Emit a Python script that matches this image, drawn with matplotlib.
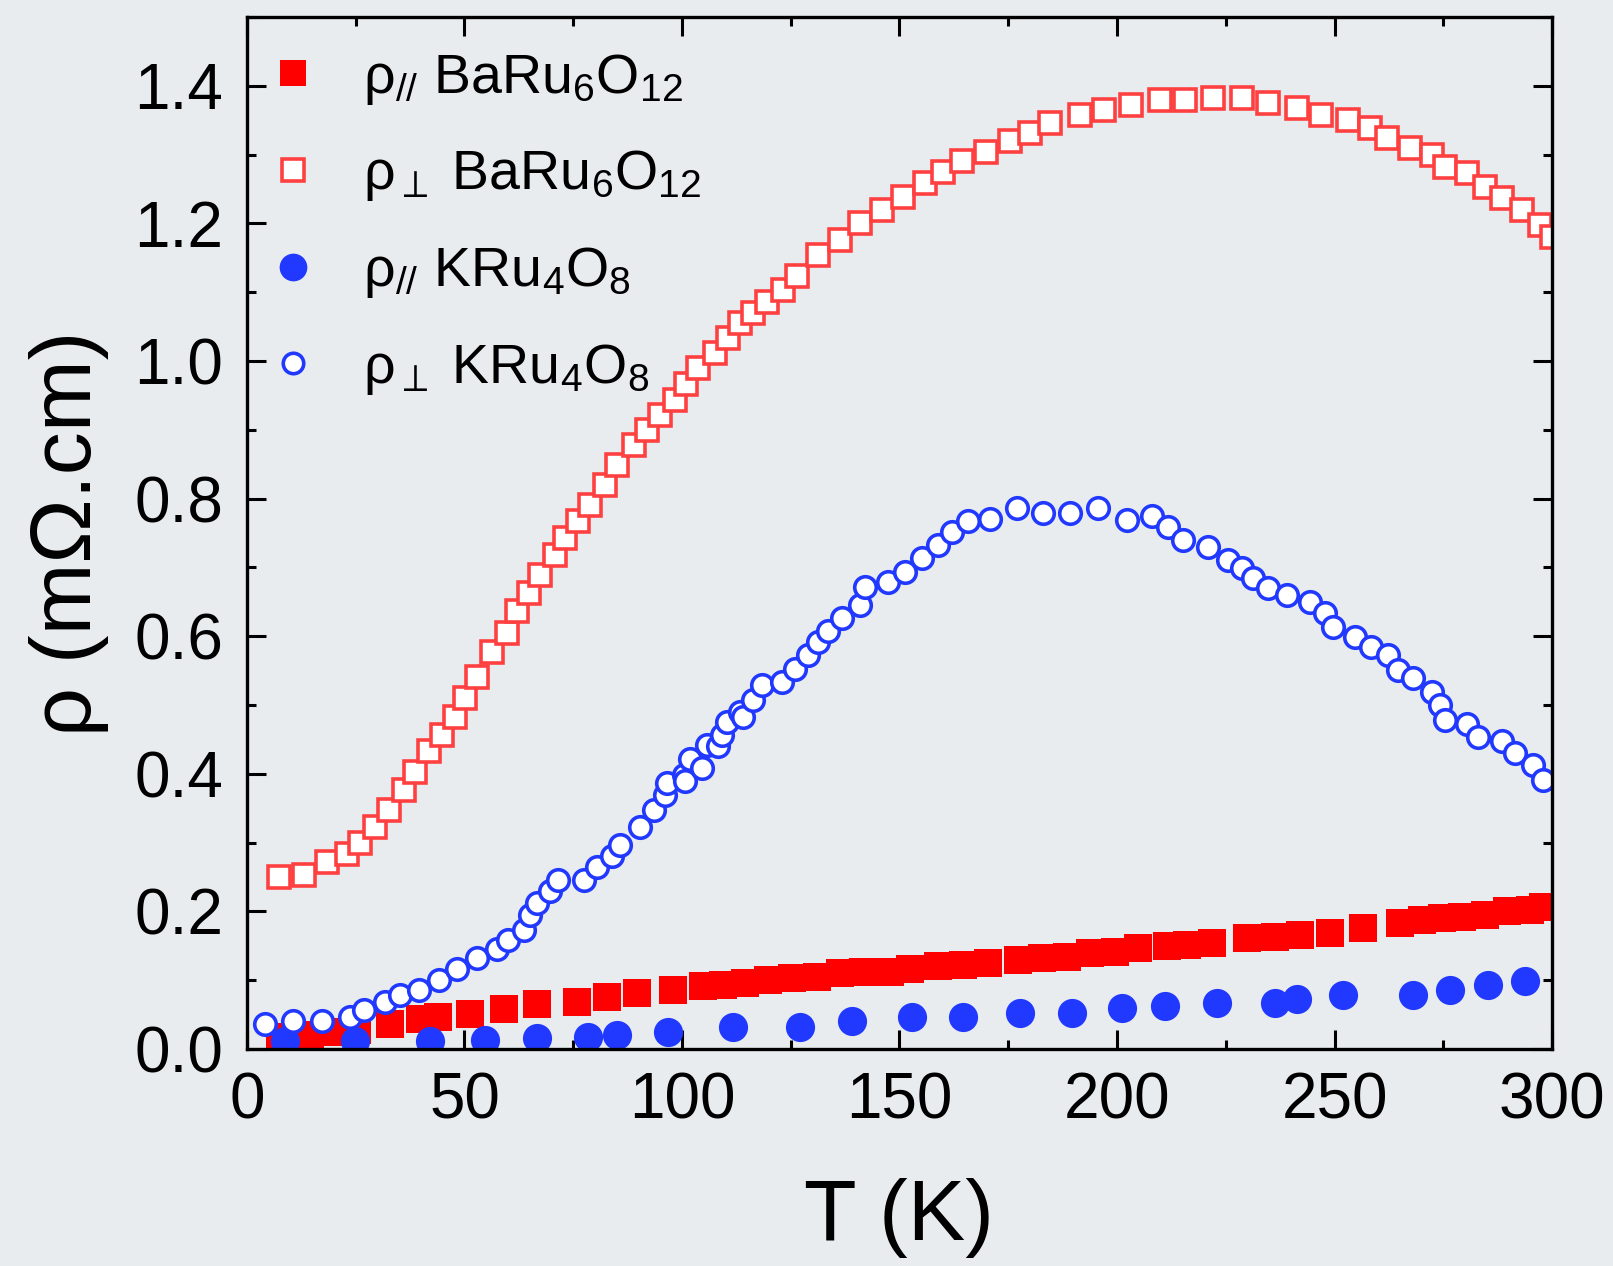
#!/usr/bin/env python3

import matplotlib
matplotlib.use('Agg')
import matplotlib.pyplot as plt
from matplotlib.ticker import MultipleLocator

BG = '#e9ecef'
RED = '#ff0000'
RED_EDGE = '#ff4040'
BLUE = '#2139ff'

plt.rcParams['font.family'] = ['Liberation Sans', 'DejaVu Sans']
plt.rcParams['mathtext.fontset'] = 'custom'
plt.rcParams['mathtext.rm'] = 'Liberation Sans'
plt.rcParams['mathtext.it'] = 'Liberation Sans'
plt.rcParams['mathtext.fallback'] = 'stixsans'

# rho_// BaRu6O12 (filled red squares)
t_ba_par = [7.6, 14.5, 20.7, 25.3, 32.9, 39.8, 44.0, 51.3, 59.0, 66.7, 75.9,
            82.8, 89.7, 98.0, 104.9, 109.4, 114.5, 119.8, 125.2, 131.0, 136.3,
            141.6, 147.8, 152.4, 158.9, 164.6, 170.3, 177.2, 182.7, 188.4,
            193.8, 199.5, 204.8, 211.4, 216.0, 221.8, 229.8, 236.3, 242.0,
            249.0, 256.6, 265.0, 270.0, 274.6, 279.2, 284.6, 289.6, 294.9, 298.0]
r_ba_par = [0.018, 0.020, 0.025, 0.028, 0.036, 0.043, 0.047, 0.051, 0.058,
            0.065, 0.069, 0.076, 0.081, 0.086, 0.091, 0.093, 0.096, 0.100,
            0.103, 0.105, 0.110, 0.112, 0.112, 0.116, 0.120, 0.122, 0.125,
            0.129, 0.132, 0.134, 0.139, 0.141, 0.147, 0.149, 0.151, 0.154,
            0.161, 0.163, 0.166, 0.169, 0.176, 0.183, 0.187, 0.190, 0.192,
            0.195, 0.200, 0.202, 0.207]

# rho_perp BaRu6O12 (open red squares)
t_ba_perp = [7.3, 13.0, 18.4, 23.0, 26.0, 29.4, 32.6, 36.0, 38.6, 41.8, 44.8,
             47.8, 50.1, 52.9, 56.3, 59.8, 62.1, 64.8, 67.4, 70.8, 73.1, 76.2,
             78.9, 82.3, 85.1, 88.9, 92.0, 95.0, 98.4, 101.0, 103.7, 107.6,
             110.6, 113.3, 116.3, 119.5, 123.2, 126.4, 131.3, 136.3, 141.0,
             145.9, 150.8, 155.9, 160.0, 164.3, 170.0, 175.4, 180.0, 184.6,
             191.5, 197.0, 203.2, 209.9, 215.6, 222.0, 228.7, 234.7, 241.3,
             247.0, 253.1, 258.2, 262.0, 267.4, 272.3, 275.4, 280.4, 284.6,
             288.4, 293.0, 297.2, 299.9]
r_ba_perp = [0.250, 0.253, 0.272, 0.283, 0.299, 0.323, 0.347, 0.376, 0.403,
             0.433, 0.456, 0.483, 0.510, 0.541, 0.577, 0.605, 0.636, 0.663,
             0.689, 0.718, 0.743, 0.767, 0.791, 0.820, 0.849, 0.878, 0.900,
             0.922, 0.944, 0.967, 0.990, 1.012, 1.033, 1.055, 1.070, 1.086,
             1.103, 1.123, 1.154, 1.176, 1.200, 1.219, 1.239, 1.259, 1.275,
             1.290, 1.304, 1.319, 1.331, 1.346, 1.358, 1.365, 1.372, 1.379,
             1.379, 1.382, 1.382, 1.375, 1.368, 1.358, 1.350, 1.339, 1.324,
             1.310, 1.299, 1.282, 1.273, 1.253, 1.237, 1.219, 1.198, 1.180]

# rho_// KRu4O8 (filled blue circles)
t_k_par = [8.7, 24.8, 42.0, 54.7, 66.7, 78.5, 85.1, 96.9, 111.7, 127.1, 139.0,
           152.8, 164.6, 177.7, 189.6, 201.2, 211.0, 222.9, 236.3, 241.3, 252.0,
           268.1, 276.6, 285.3, 293.8]
r_k_par = [0.011, 0.011, 0.011, 0.013, 0.016, 0.018, 0.020, 0.025, 0.032,
           0.032, 0.040, 0.047, 0.047, 0.052, 0.052, 0.060, 0.062, 0.067,
           0.067, 0.073, 0.079, 0.079, 0.086, 0.093, 0.099]

# rho_perp KRu4O8 (open blue circles)
t_k_perp = [4.2, 10.7, 17.2, 23.8, 26.8, 31.8, 35.2, 39.5, 44.1, 48.3, 52.9,
            57.5, 60.1, 63.6, 65.1, 66.7, 69.7, 71.6, 77.4, 80.5, 83.9, 85.8,
            90.4, 93.5, 96.1, 96.6, 100.4, 100.7, 101.8, 104.5, 105.7, 108.3,
            109.1, 110.3, 113.3, 114.1, 116.4, 118.3, 122.9, 126.0, 129.0,
            131.3, 133.6, 136.7, 140.9, 142.1, 147.4, 151.3, 155.1, 158.9,
            162.0, 165.8, 170.8, 176.9, 183.0, 189.2, 195.7, 202.2, 208.0,
            211.8, 215.2, 221.0, 225.6, 228.7, 231.3, 234.8, 239.0, 244.4,
            247.8, 249.7, 254.7, 258.5, 262.4, 264.7, 268.1, 272.3, 274.3,
            275.4, 280.4, 283.0, 288.4, 291.5, 295.7, 298.0]
r_k_perp = [0.037, 0.040, 0.040, 0.047, 0.057, 0.069, 0.079, 0.086, 0.100,
            0.117, 0.132, 0.146, 0.158, 0.173, 0.195, 0.212, 0.229, 0.246,
            0.246, 0.265, 0.280, 0.297, 0.323, 0.347, 0.369, 0.386, 0.398,
            0.389, 0.422, 0.408, 0.442, 0.440, 0.456, 0.476, 0.490, 0.483,
            0.507, 0.529, 0.534, 0.553, 0.573, 0.592, 0.607, 0.626, 0.645,
            0.672, 0.679, 0.694, 0.713, 0.733, 0.752, 0.767, 0.771, 0.786,
            0.779, 0.779, 0.786, 0.769, 0.774, 0.759, 0.740, 0.730, 0.711,
            0.699, 0.684, 0.670, 0.660, 0.650, 0.633, 0.614, 0.599, 0.585,
            0.573, 0.551, 0.539, 0.519, 0.500, 0.478, 0.473, 0.454, 0.447,
            0.430, 0.413, 0.391]

labels = [r'ρ$_{//}$ BaRu$_6$O$_{12}$',
          r'ρ$_{\perp}$ BaRu$_6$O$_{12}$',
          r'ρ$_{//}$ KRu$_4$O$_8$',
          r'ρ$_{\perp}$ KRu$_4$O$_8$']

fig = plt.figure(figsize=(16.13, 12.66), dpi=100, facecolor=BG)
ax = fig.add_axes([0.1531, 0.1714, 0.8091, 0.8152], facecolor=BG)

ax.plot(t_ba_par, r_ba_par, ls='none', marker='s', ms=19.5, mfc=RED, mec=RED,
        mew=0, label=labels[0])
ax.plot(t_ba_perp, r_ba_perp, ls='none', marker='s', ms=16, mfc='white',
        mec=RED_EDGE, mew=2.6, label=labels[1])
ax.plot(t_k_par, r_k_par, ls='none', marker='o', ms=21, mfc=BLUE, mec=BLUE,
        mew=0, label=labels[2])
ax.plot(t_k_perp, r_k_perp, ls='none', marker='o', ms=15.5, mfc='white',
        mec=BLUE, mew=2.6, label=labels[3])

ax.set_xlim(0, 300)
ax.set_ylim(0, 1.5)
ax.xaxis.set_major_locator(MultipleLocator(50))
ax.xaxis.set_minor_locator(MultipleLocator(25))
ax.yaxis.set_major_locator(MultipleLocator(0.2))
ax.yaxis.set_minor_locator(MultipleLocator(0.1))
ax.yaxis.set_major_formatter(lambda v, pos: f'{v:.1f}')

ax.tick_params(which='both', direction='in', top=True, right=True,
               width=2.2, labelsize=46, colors='black')
ax.tick_params(which='major', length=13.5)
ax.tick_params(which='minor', length=6.5)
ax.tick_params(axis='x', which='major', pad=16)
ax.tick_params(axis='y', which='major', pad=17)
for spine in ax.spines.values():
    spine.set_linewidth(2.4)

ax.set_xlabel('T (K)', fontsize=62, labelpad=34)
ax.set_ylabel('ρ (mΩ.cm)', fontsize=62, labelpad=18)

ax.legend(loc='upper left', bbox_to_anchor=(-0.0115, 1.004), frameon=False,
          fontsize=40, handlelength=0.8, handletextpad=0.86,
          labelspacing=0.75, borderaxespad=0.3, markerscale=0.95)

fig.savefig('out.png', dpi=100, facecolor=BG)
